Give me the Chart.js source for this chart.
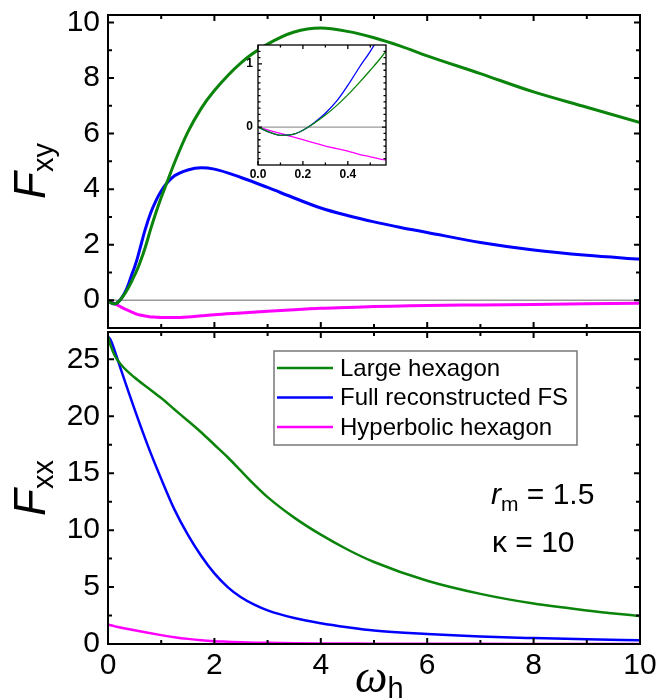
<!DOCTYPE html>
<html>
<head>
<meta charset="utf-8">
<script src="https://cdn.jsdelivr.net/npm/chart.js@4.4.1/dist/chart.umd.min.js"></script>
<style>
  html, body { margin: 0; padding: 0; background: #fff; }
  #wrap { position: relative; width: 668px; height: 698px; overflow: hidden; font-family: "Liberation Sans", Arial, sans-serif; color: #000; }
  canvas { position: absolute; }
  #top { left: 0; top: 0; }
  #bottom { left: 0; top: 330px; }
  #inset { left: 200px; top: 40px; z-index: 2; }
  .lbl { position: absolute; white-space: nowrap; }
  .ytitle { transform-origin: 0 0; transform: rotate(-90deg); font-size: 44px; line-height: 44px; }
  .sub { position: relative; font-style: normal; }
</style>
</head>
<body>
<div id="wrap">
  <canvas id="top" width="668" height="331"></canvas>
  <canvas id="bottom" width="668" height="368"></canvas>
  <canvas id="inset" width="200" height="150"></canvas>

  <div class="lbl ytitle" style="left:8px; top:199px"><i>F</i><span class="sub" style="font-size:29px; line-height:29px; top:8px">xy</span></div>
  <div class="lbl ytitle" style="left:8px; top:516px"><i>F</i><span class="sub" style="font-size:29px; line-height:29px; top:8px">xx</span></div>
  <div class="lbl" style="left:355px; top:654px; font:italic 46px/46px 'Liberation Serif', serif">ω<span class="sub" style="font:29px/29px 'Liberation Sans', Arial, sans-serif; top:6px">h</span></div>
  <div class="lbl" style="left:491px; top:479px; font:30px/30px 'Liberation Sans', Arial, sans-serif"><i>r</i><span class="sub" style="font-size:21px; line-height:21px; top:7px">m</span> = 1.5</div>
  <div class="lbl" style="left:492px; top:527px; font:30px/30px 'Liberation Sans', Arial, sans-serif">κ = 10</div>
</div>

<script>
// ---- data ----
const wTop = [0,0.05,0.1,0.15,0.2,0.25,0.3,0.35,0.4,0.45,0.5,0.55,0.6,0.7,0.8,0.9,1,1.1,1.25,1.5,1.75,2,2.5,3,3.5,4,4.5,5,5.5,6,7,8,9,10];
const fxyLarge = [0,-0.08,-0.13,-0.12,-0.05,0.06,0.19,0.34,0.51,0.7,0.9,1.11,1.35,1.9,2.55,3.15,3.7,4.2,4.95,6.05,6.9,7.55,8.55,9.22,9.66,9.8,9.68,9.45,9.15,8.8,8.16,7.5,6.95,6.4];
const fxyFull  = [0,-0.08,-0.13,-0.12,-0.05,0.07,0.22,0.41,0.66,0.94,1.2,1.5,1.85,2.55,3.13,3.58,3.93,4.2,4.48,4.69,4.77,4.72,4.42,4.06,3.68,3.32,3.05,2.82,2.62,2.44,2.08,1.81,1.62,1.48];
const fxyHyper = [0,-0.05,-0.1,-0.15,-0.2,-0.25,-0.3,-0.34,-0.38,-0.43,-0.47,-0.51,-0.53,-0.57,-0.6,-0.61,-0.62,-0.62,-0.62,-0.6,-0.56,-0.52,-0.46,-0.4,-0.34,-0.29,-0.26,-0.23,-0.21,-0.19,-0.17,-0.15,-0.13,-0.11];

const wBot = [0,0.05,0.13,0.25,0.5,0.75,1,1.25,1.5,1.75,2,2.25,2.5,2.75,3,3.5,4,4.5,5,6,7,8,9,10];
const fxxLarge = [27.0,26.2,25.3,24.5,23.4,22.5,21.6,20.6,19.6,18.6,17.5,16.4,15.2,14.0,12.9,11.1,9.6,8.3,7.2,5.55,4.4,3.55,2.95,2.45];
const fxxFull  = [27.0,26.7,25.7,24.0,20.6,17.4,14.5,11.8,9.6,7.75,6.2,5.0,4.1,3.45,2.95,2.28,1.83,1.48,1.19,0.88,0.66,0.52,0.41,0.33];
const fxxHyper = [1.7,1.64,1.55,1.43,1.2,0.98,0.78,0.6,0.45,0.33,0.25,0.2,0.15,0.12,0.1,0.07,0.05,0.04,0.03,0.02,0.015,0.01,0.01,0.01];

const seriesNames = ["Large hexagon", "Full reconstructed FS", "Hyperbolic hexagon"];

// ticks
const xTicks = [0,2,4,6,8,10];
const xMinor = [1,3,5,7,9];
const fxyTicks = [0,2,4,6,8,10];
const fxyMinor = [1,3,5,7,9];
const fxxTicks = [0,5,10,15,20,25];
const fxxMinor = [2.5,7.5,12.5,17.5,22.5];
const insetXTicks = [0,0.2,0.4];
const insetXMinor = [0.1,0.3,0.5];
const insetYTicks = [0,1];
const insetYMinor = [-0.5,-0.4,-0.3,-0.2,-0.1,0.1,0.2,0.3,0.4,0.5,0.6,0.7,0.8,0.9,1.1,1.2];

const colors = ["#0a840a", "#0000ff", "#ff00ff"];
const FONT = "'Liberation Sans', Arial, sans-serif";

function pts(xs, ys) {
  return xs.map((x, i) => ({ x: x, y: ys[i] }));
}

function makeSets(xs, groups, width) {
  return groups.map((ys, i) => ({
    label: seriesNames[i],
    data: pts(xs, ys),
    borderColor: colors[i],
    borderWidth: width,
    pointRadius: 0,
    fill: false,
    cubicInterpolationMode: "monotone"
  }));
}

function fixTicks(list) {
  return s => { s.ticks = list.map(v => ({ value: v })); };
}

// stop the axes from pushing the plot area in for their end labels
function noPad(s) {
  s.paddingTop = 0; s.paddingBottom = 0;
  s.paddingLeft = 0; s.paddingRight = 0;
}

/* box frame + inward ticks on all sides */
function framePlugin(cfg) {
  return {
    id: "frame",
    beforeDraw(chart) {
      if (!cfg.fill) return;
      const { ctx, chartArea: a } = chart;
      ctx.save();
      ctx.fillStyle = "#fff";
      ctx.fillRect(a.left, a.top, a.right - a.left, a.bottom - a.top);
      ctx.restore();
    },
    beforeDatasetsDraw(chart) {
      if (!cfg.zero) return;
      const { ctx, chartArea: a, scales } = chart;
      const y0 = scales.y.getPixelForValue(0);
      ctx.save();
      ctx.strokeStyle = "#999";
      ctx.lineWidth = cfg.zero;
      ctx.beginPath();
      ctx.moveTo(a.left, y0);
      ctx.lineTo(a.right, y0);
      ctx.stroke();
      ctx.restore();
    },
    afterDraw(chart) {
      const { ctx, chartArea: a, scales } = chart;
      const sx = scales.x, sy = scales.y;
      ctx.save();
      ctx.strokeStyle = "#000";
      ctx.lineWidth = cfg.lw;
      ctx.beginPath();
      const xt = (vals, len) => vals.forEach(v => {
        const p = sx.getPixelForValue(v);
        ctx.moveTo(p, a.bottom); ctx.lineTo(p, a.bottom - len);
        ctx.moveTo(p, a.top); ctx.lineTo(p, a.top + len);
      });
      const yt = (vals, len) => vals.forEach(v => {
        const p = sy.getPixelForValue(v);
        ctx.moveTo(a.left, p); ctx.lineTo(a.left + len, p);
        ctx.moveTo(a.right, p); ctx.lineTo(a.right - len, p);
      });
      xt(cfg.xMajor, cfg.major); xt(cfg.xMinor, cfg.minor);
      yt(cfg.yMajor, cfg.major); yt(cfg.yMinor, cfg.minor);
      ctx.stroke();
      ctx.strokeRect(a.left, a.top, a.right - a.left, a.bottom - a.top);
      ctx.restore();
    }
  };
}

/* legend box inside the lower panel */
const legendBox = {
  id: "legendBox",
  afterDraw(chart) {
    const { ctx, chartArea: a } = chart;
    const left = a.left + 166, top = a.top + 19, w = 303, h = 94;
    ctx.save();
    ctx.fillStyle = "#fff";
    ctx.fillRect(left, top, w, h);
    ctx.strokeStyle = "#777";
    ctx.lineWidth = 1.5;
    ctx.strokeRect(left, top, w, h);
    ctx.font = "24px " + FONT;
    ctx.textBaseline = "middle";
    chart.data.datasets.forEach((ds, i) => {
      const cy = top + 17 + i * 29.5;
      ctx.strokeStyle = ds.borderColor;
      ctx.lineWidth = 2.5;
      ctx.beginPath();
      ctx.moveTo(left + 3, cy);
      ctx.lineTo(left + 59, cy);
      ctx.stroke();
      ctx.fillStyle = "#000";
      ctx.fillText(ds.label, left + 66, cy + 1);
    });
    ctx.restore();
  }
};

const common = {
  responsive: false,
  animation: false,
  events: [],
  plugins: { legend: { display: false }, tooltip: { enabled: false } }
};

function yScale(min, max, ticks, width, font, pad) {
  return {
    type: "linear", min: min, max: max,
    afterBuildTicks: fixTicks(ticks),
    afterFit: s => { s.width = width; noPad(s); },
    grid: { display: false, drawTicks: false },
    border: { display: false },
    ticks: { font: font, color: "#000", padding: pad, autoSkip: false }
  };
}

/* upper panel: F_xy */
new Chart(document.getElementById("top"), {
  type: "line",
  data: { datasets: makeSets(wTop, [fxyLarge, fxyFull, fxyHyper], 3) },
  options: Object.assign({}, common, {
    layout: { padding: { top: 15, right: 28, bottom: 3, left: 0 } },
    scales: {
      x: { type: "linear", min: 0, max: 10, display: false },
      y: yScale(-1, 10.27, fxyTicks, 108, { size: 30, family: FONT }, 8)
    }
  }),
  plugins: [framePlugin({ xMajor: xTicks, xMinor: xMinor, yMajor: fxyTicks, yMinor: fxyMinor, major: 6, minor: 4, lw: 2, zero: 1.5 })]
});

/* lower panel: F_xx */
new Chart(document.getElementById("bottom"), {
  type: "line",
  data: { datasets: makeSets(wBot, [fxxLarge, fxxFull, fxxHyper], 2.5) },
  options: Object.assign({}, common, {
    layout: { padding: { top: 2, right: 28, bottom: 0, left: 0 } },
    scales: {
      x: {
        type: "linear", min: 0, max: 10,
        afterBuildTicks: fixTicks(xTicks),
        afterFit: s => { s.height = 54; noPad(s); },
        grid: { display: false, drawTicks: false },
        border: { display: false },
        ticks: { font: { size: 30, family: FONT }, color: "#000", padding: 4, maxRotation: 0, autoSkip: false }
      },
      y: yScale(0, 27.4, fxxTicks, 108, { size: 30, family: FONT }, 8)
    }
  }),
  plugins: [framePlugin({ xMajor: xTicks, xMinor: xMinor, yMajor: fxxTicks, yMinor: fxxMinor, major: 6, minor: 4, lw: 2 }), legendBox]
});

/* inset: zoom of F_xy near the origin */
new Chart(document.getElementById("inset"), {
  type: "line",
  data: { datasets: makeSets(wTop, [fxyLarge, fxyFull, fxyHyper], 1.3) },
  options: Object.assign({}, common, {
    layout: { padding: { top: 5, right: 14, bottom: 0, left: 0 } },
    scales: {
      x: {
        type: "linear", min: 0, max: 0.57,
        afterBuildTicks: fixTicks(insetXTicks),
        afterFit: s => { s.height = 25; noPad(s); },
        grid: { display: false, drawTicks: false },
        border: { display: false },
        ticks: { font: { size: 12, weight: "bold", family: FONT }, color: "#000", padding: 2, maxRotation: 0, autoSkip: false,
                 callback: v => Number(v).toFixed(1) }
      },
      y: yScale(-0.6, 1.3, insetYTicks, 58, { size: 12, weight: "bold", family: FONT }, 5)
    }
  }),
  plugins: [framePlugin({ xMajor: insetXTicks, xMinor: insetXMinor, yMajor: insetYTicks, yMinor: insetYMinor, major: 4, minor: 2.5, lw: 1.3, zero: 1.2, fill: true })]
});
</script>
</body>
</html>
